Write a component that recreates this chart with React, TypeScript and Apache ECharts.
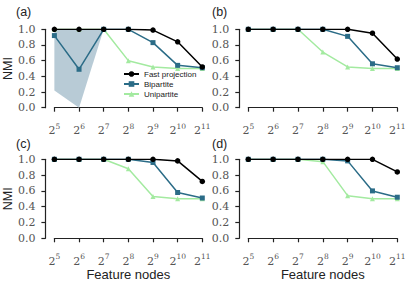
import React, { useEffect, useRef } from 'react';
import * as echarts from 'echarts';

const exponents = [5, 6, 7, 8, 9, 10, 11];
const categories = exponents.map((e) => '2^' + e);
const seriesNames = ['Fast projection', 'Bipartite', 'Unipartite'];
const panelLabels = ['(a)', '(b)', '(c)', '(d)'];

const fastA = [1.0, 1.0, 1.0, 1.0, 0.99, 0.84, 0.52];
const bipA = [0.92, 0.49, 1.0, 1.0, 0.83, 0.54, 0.51];
const uniA = [1.0, 1.0, 1.0, 0.6, 0.52, 0.5, 0.5];
const bandLowA = [0.22, 0.0, 1.0];
const bandHighA = [1.0, 1.0, 1.0];

const fastB = [1.0, 1.0, 1.0, 1.0, 1.0, 0.95, 0.62];
const bipB = [1.0, 1.0, 1.0, 1.0, 0.91, 0.56, 0.51];
const uniB = [1.0, 1.0, 1.0, 0.71, 0.52, 0.5, 0.5];

const fastC = [1.0, 1.0, 1.0, 1.0, 1.0, 0.98, 0.72];
const bipC = [1.0, 1.0, 1.0, 1.0, 0.96, 0.58, 0.51];
const uniC = [1.0, 1.0, 1.0, 0.88, 0.53, 0.5, 0.5];

const fastD = [1.0, 1.0, 1.0, 1.0, 1.0, 1.0, 0.84];
const bipD = [1.0, 1.0, 1.0, 1.0, 0.98, 0.6, 0.52];
const uniD = [1.0, 1.0, 1.0, 0.97, 0.54, 0.5, 0.5];

const panelData = [
  { fast: fastA, bip: bipA, uni: uniA },
  { fast: fastB, bip: bipB, uni: uniB },
  { fast: fastC, bip: bipC, uni: uniC },
  { fast: fastD, bip: bipD, uni: uniD },
];

const COL_FAST = '#000000';
const COL_BIP = '#2b6c87';
const COL_UNI = '#a3eaa0';
const COL_BAND = '#b8cbd6';
const AXIS_COL = '#222222';
const SERIF = "'DejaVu Serif', serif";
const SANS = "'Liberation Sans', Arial, sans-serif";

const grids = [
  { left: 53.3, top: 29.3, width: 149, height: 78.4 },
  { left: 248.3, top: 29.3, width: 149, height: 78.4 },
  { left: 53.3, top: 159.3, width: 149, height: 79 },
  { left: 248.3, top: 159.3, width: 149, height: 79 },
];
const labelPos = [
  { x: 16, y: 12 },
  { x: 212, y: 12 },
  { x: 16, y: 144 },
  { x: 212, y: 144 },
];

export default function App() {
  const ref = useRef<HTMLDivElement>(null);
  useEffect(() => {
    if (!ref.current) return;
    const chart = echarts.init(ref.current, null, { renderer: 'svg' });

    const xAxis = grids.map((_, i) => ({
      type: 'category',
      gridIndex: i,
      data: categories,
      boundaryGap: false,
      offset: 8.5,
      axisLine: { show: true, lineStyle: { color: AXIS_COL, width: 1.2 } },
      axisTick: { show: true, interval: 0, length: 4, lineStyle: { color: AXIS_COL, width: 1.2 } },
      axisLabel: {
        interval: 0,
        hideOverlap: false,
        margin: 6,
        formatter: (v: string) => {
          const parts = v.split('^');
          return '{b|' + parts[0] + '}{s|' + parts[1] + '}';
        },
        rich: {
          b: { fontFamily: SERIF, fontSize: 11, color: '#555', lineHeight: 14, verticalAlign: 'bottom' },
          s: { fontFamily: SERIF, fontSize: 7.5, color: '#555', lineHeight: 7, verticalAlign: 'top' },
        },
      },
      splitLine: { show: false },
      name: i >= 2 ? 'Feature nodes' : '',
      nameLocation: 'middle',
      nameGap: 21,
      nameTextStyle: { fontFamily: SANS, fontSize: 13, color: '#222' },
    }));

    const yAxis = grids.map((_, i) => ({
      type: 'value',
      gridIndex: i,
      min: 0,
      max: 1,
      interval: 0.2,
      offset: 9,
      axisLine: { show: true, lineStyle: { color: AXIS_COL, width: 1.2 } },
      axisTick: { show: true, length: 4, lineStyle: { color: AXIS_COL, width: 1.2 } },
      axisLabel: {
        margin: 10,
        fontFamily: SERIF,
        fontSize: 11,
        color: '#555',
        formatter: (v: number) => v.toFixed(1),
      },
      splitLine: { show: false },
      name: i % 2 === 0 ? 'NMI' : '',
      nameLocation: 'middle',
      nameGap: 30,
      nameRotate: 90,
      nameTextStyle: { fontFamily: SANS, fontSize: 12.5, color: '#222' },
    }));

    const series: any[] = [
      {
        name: 'bandLow',
        type: 'line',
        xAxisIndex: 0,
        yAxisIndex: 0,
        stack: 'band',
        data: bandLowA,
        symbol: 'none',
        lineStyle: { opacity: 0 },
        silent: true,
        z: 1,
      },
      {
        name: 'bandRange',
        type: 'line',
        xAxisIndex: 0,
        yAxisIndex: 0,
        stack: 'band',
        data: bandHighA.map((h, k) => +(h - bandLowA[k]).toFixed(3)),
        symbol: 'none',
        lineStyle: { opacity: 0 },
        areaStyle: { color: COL_BAND, opacity: 1 },
        silent: true,
        z: 1,
      },
    ];

    panelData.forEach((p, i) => {
      series.push({
        name: 'Unipartite',
        type: 'line',
        xAxisIndex: i,
        yAxisIndex: i,
        data: p.uni,
        symbol: 'triangle',
        symbolSize: 5,
        itemStyle: { color: COL_UNI },
        lineStyle: { color: COL_UNI, width: 1.5 },
        z: 2,
      });
      series.push({
        name: 'Bipartite',
        type: 'line',
        xAxisIndex: i,
        yAxisIndex: i,
        data: p.bip,
        symbol: 'rect',
        symbolSize: 5,
        itemStyle: { color: COL_BIP },
        lineStyle: { color: COL_BIP, width: 1.5 },
        z: 3,
      });
      series.push({
        name: 'Fast projection',
        type: 'line',
        xAxisIndex: i,
        yAxisIndex: i,
        data: p.fast,
        symbol: 'circle',
        symbolSize: 5.5,
        itemStyle: { color: COL_FAST },
        lineStyle: { color: COL_FAST, width: 1.5 },
        z: 4,
      });
    });

    chart.setOption({
      animation: false,
      backgroundColor: '#ffffff',
      grid: grids.map((g) => ({ ...g, containLabel: false })),
      xAxis,
      yAxis,
      legend: {
        data: seriesNames,
        orient: 'vertical',
        left: 123,
        top: 69,
        itemWidth: 15,
        itemHeight: 7,
        itemGap: 0,
        padding: 0,
        textStyle: { fontFamily: SANS, fontSize: 8, color: '#222', lineHeight: 10 },
      },
      graphic: panelLabels.map((t, i) => ({
        type: 'text',
        left: labelPos[i].x,
        top: labelPos[i].y - 7,
        style: { text: t, fontFamily: SANS, fontSize: 12.5, fill: '#222' },
      })),
      series,
    });

    return () => chart.dispose();
  }, []);

  return (
    <div
      ref={ref}
      style={{ position: 'fixed', left: 0, top: 0, width: 415, height: 286, background: '#fff' }}
    />
  );
}
